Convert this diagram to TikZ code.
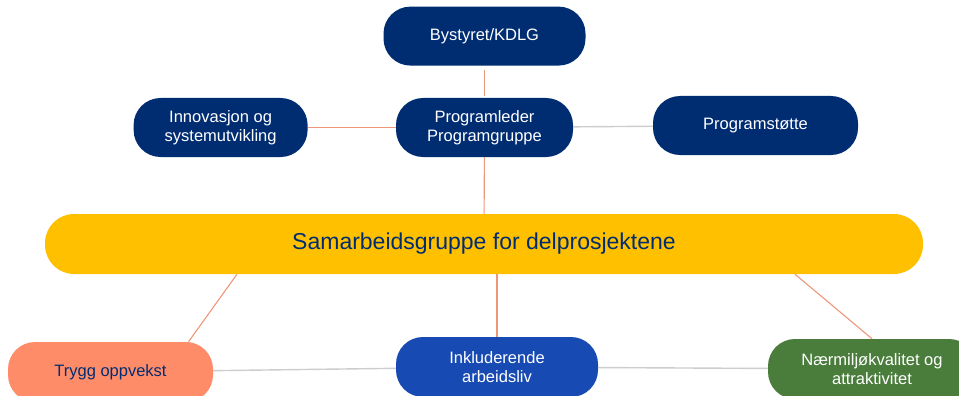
\documentclass[tikz,border=0pt]{standalone}
\usepackage{fontspec}
\setmainfont{Liberation Sans}
\usetikzlibrary{positioning}

\definecolor{navy}{RGB}{0,45,114}
\definecolor{royal}{RGB}{24,74,180}
\definecolor{leaf}{RGB}{74,125,60}
\definecolor{salmon}{RGB}{255,140,105}
\definecolor{gold}{RGB}{255,192,0}
\definecolor{wire}{RGB}{238,150,120}
\definecolor{greywire}{RGB}{205,205,205}

\tikzset{
  box/.style={rounded corners=27pt, minimum height=59pt, align=center, inner sep=2pt,
    font=\fontsize{16.5}{19.5}\selectfont, text=white},
  link/.style={draw=wire, line width=1.1pt},
  grey link/.style={draw=greywire, line width=1.4pt}
}

\begin{document}
\begin{tikzpicture}[x=1pt,y=-1pt]

\useasboundingbox (0,0) rectangle (959,396);

\node[box, fill=navy, minimum width=177pt] (prog) at (484.5,127.5) {Programleder\\Programgruppe};

\node[box, fill=navy, minimum width=202pt, above=32pt of prog] (by) {Bystyret/KDLG};

\draw [link, shorten <=4pt, shorten >=2pt] (by) to (prog);

\node[box, fill=navy, minimum width=174pt, left=88pt of prog] (innov) {Innovasjon og\\systemutvikling};

\draw [link] (innov) to (prog);

\node[box, fill=navy, minimum width=205pt] (stotte) at (755.5,125.5) {Programstøtte};

\draw [grey link] (prog) to (stotte);

\node[box, fill=gold, text=navy, minimum width=878pt, minimum height=60pt, rounded corners=29pt,
  font=\fontsize{23}{27}\selectfont] (sam) at (484,244) {Samarbeidsgruppe for delprosjektene};

\draw [link] (prog) to (sam);

\node[box, fill=salmon, text=navy, minimum width=205pt, minimum height=60pt] (trygg) at (110.5,372) {Trygg oppvekst};

\node[box, fill=royal, minimum width=202pt, minimum height=60pt] (inkl) at (497,367) {Inkluderende\\arbeidsliv};

\node[box, fill=leaf, minimum width=208pt, minimum height=60pt] (naer) at (872,369) {Nærmiljøkvalitet og\\attraktivitet};

\draw [link] ([xshift=-247pt]sam.south) to ([xshift=78pt]trygg.north);

\draw [link] (inkl.north |- sam.south) to (inkl.north);

\draw [link] ([xshift=311pt]sam.south) to (naer.north);

\draw [grey link] (trygg) to (inkl);

\draw [grey link] (inkl) to (naer);

\end{tikzpicture}
\end{document}
